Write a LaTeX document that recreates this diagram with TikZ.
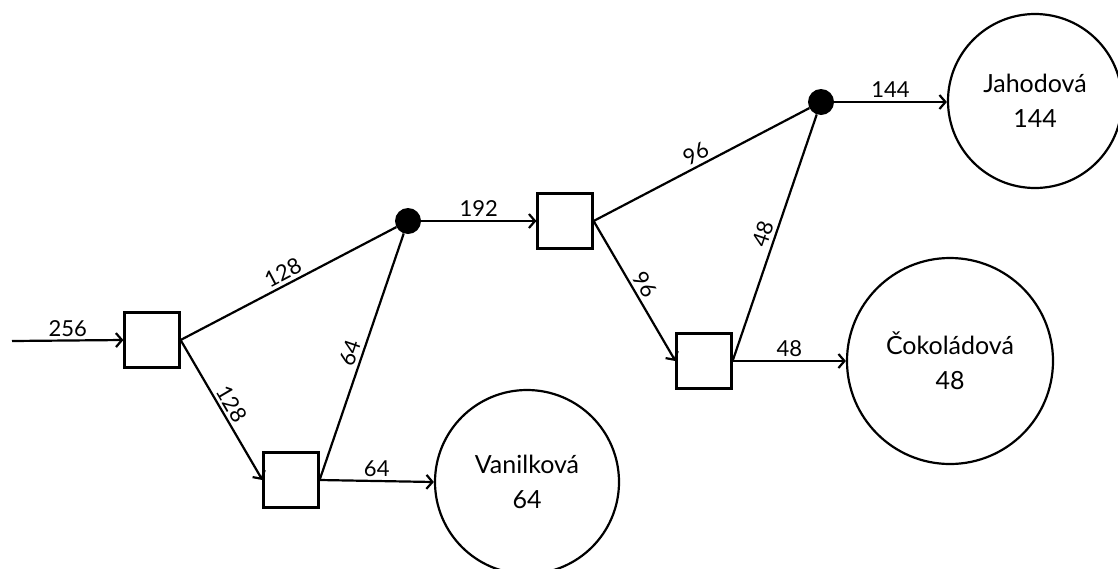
\documentclass[tikz,border=0pt]{standalone}
\usepackage{fontspec}
\setmainfont{Lato}
\usetikzlibrary{arrows.meta}
\begin{document}
\begin{tikzpicture}[x=1pt,y=-1pt,
  box/.style={draw,line width=2.2pt,minimum size=55pt,inner sep=0pt},
  dotnode/.style={circle,fill=black,minimum size=26pt,inner sep=0pt},
  flavour/.style={draw,circle,line width=2.2pt,inner sep=0pt,align=center,font=\fontsize{25}{35}\selectfont},
  conn/.style={line width=2.2pt},
  arr/.style={conn,-{Straight Barb[length=6pt,width=14pt,line width=2.2pt]}},
  lab/.style={font=\fontsize{22}{26}\selectfont,inner sep=3pt}]
\useasboundingbox (0,0) rectangle (1118,568);
\coordinate (start) at (12,341);
\node[box] (b1) at (152,340) {};
\node[box] (b2) at (291,480) {};
\node[dotnode] (d1) at (408,221) {};
\node[box] (b3) at (565,221) {};
\node[box] (b4) at (704,361) {};
\node[dotnode] (d2) at (821,102) {};
\node[flavour,minimum size=184pt] (van) at (527,482) {Vanilková\\64};
\node[flavour,minimum size=206pt] (cok) at (950,361) {Čokoládová\\48};
\node[flavour,minimum size=174pt] (jah) at (1035,101) {Jahodová\\144};

\draw[arr] (start) -- node[lab,above]{256} (b1.west);
\draw[conn] (b1.east) -- node[lab,sloped,above]{128} (d1);
\draw[arr] (b1.east) -- node[lab,sloped,above]{128} (b2.west);
\draw[conn] (b2.east) -- node[lab,sloped,above]{64} (d1);
\draw[arr] (b2.east) -- node[lab,above]{64} (van.west);
\draw[arr] (d1) -- node[lab,above]{192} (b3.west);
\draw[conn] (b3.east) -- node[lab,sloped,above]{96} (d2);
\draw[arr] (b3.east) -- node[lab,sloped,above]{96} (b4.west);
\draw[conn] (b4.east) -- node[lab,sloped,above]{48} (d2);
\draw[arr] (b4.east) -- node[lab,above]{48} (cok.west);
\draw[arr] (d2) -- node[lab,above]{144} (jah.west|-d2);
\end{tikzpicture}
\end{document}
